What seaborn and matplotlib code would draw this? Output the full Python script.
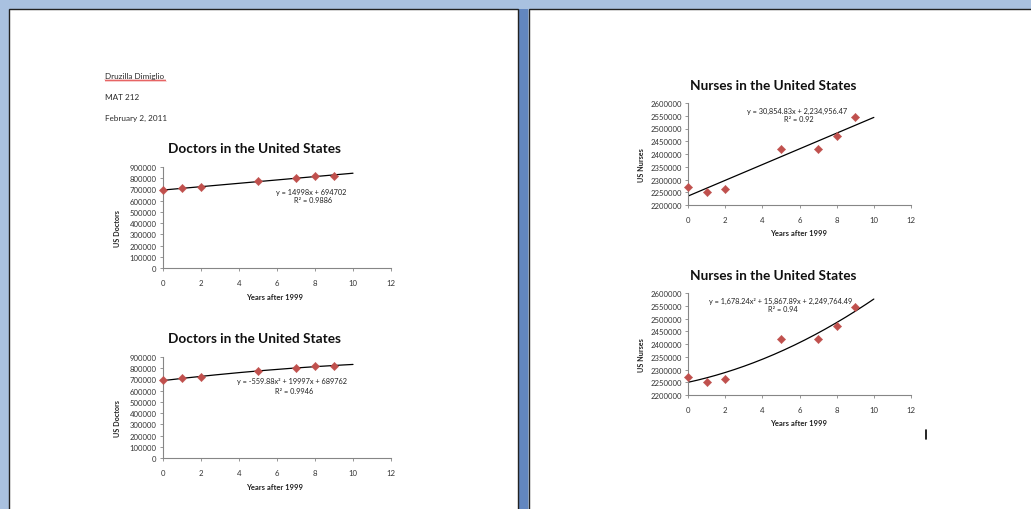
import numpy as np
import pandas as pd
import matplotlib
matplotlib.use("Agg")
import matplotlib.pyplot as plt
from matplotlib.patches import Rectangle
from matplotlib.lines import Line2D
import seaborn as sns

# ---- data -------------------------------------------------------------
years = [0, 1, 2, 5, 7, 8, 9]
doctors = [692000, 710000, 724000, 778000, 800000, 817000, 822000]
nurses = [2272000, 2251000, 2262000, 2421000, 2418000, 2469000, 2544000]

# trendline coefficients (highest power first) as printed on the charts
doc_lin = [14998, 694702]
doc_quad = [-559.88, 19997, 689762]
nur_lin = [30854.83, 2234956.47]
nur_quad = [1678.24, 15867.89, 2249764.49]

doc_lin_label = ["y = 14998x + 694702", "R\u00b2 = 0.9886"]
doc_quad_label = ["y = -559.88x\u00b2 + 19997x + 689762", "R\u00b2 = 0.9946"]
nur_lin_label = ["y = 30,854.83x + 2,234,956.47", "R\u00b2 = 0.92"]
nur_quad_label = ["y = 1,678.24x\u00b2 + 15,867.89x + 2,249,764.49", "R\u00b2 = 0.94"]

doc_yticks = list(range(0, 900001, 100000))
nur_yticks = list(range(2200000, 2600001, 50000))
xticks = [0, 2, 4, 6, 8, 10, 12]

header = ["Druzilla Dimiglio", "MAT 212", "February 2, 2011"]

# ---- figure ---------------------------------------------------------
sns.set_theme(style="white")
plt.rcParams["font.family"] = ["Lato", "DejaVu Sans"]

W, H = 1031, 510
fig = plt.figure(figsize=(W / 100, H / 100), dpi=100)
fig.patch.set_facecolor("#a9c1e0")


def fx(x):
    return x / W


def fy(y):
    return 1 - y / H


# gap between the two pages
fig.add_artist(Rectangle((fx(518), 0), fx(10), fy(10), transform=fig.transFigure,
                         facecolor="#6286bf", edgecolor="none", zorder=0))
# pages
for x0, x1 in [(8.5, 517.5), (528.5, 1040)]:
    fig.add_artist(Rectangle((fx(x0), -0.05), fx(x1 - x0), fy(10) + 0.05,
                             transform=fig.transFigure, facecolor="white",
                             edgecolor="#222222", linewidth=1.0, zorder=0.5))

# header block
for txt, y in zip(header, [77, 97, 118]):
    fig.text(fx(105), fy(y), txt, fontsize=5.9, color="#2a2a2a",
             ha="left", va="center", zorder=3)
# spell-check squiggle under the name
sx = np.arange(105, 167, 1.0)
sy = 81.5 + 0.8 * ((np.arange(len(sx)) % 2) * 2 - 1)
fig.add_artist(Line2D(fx(sx), fy(sy), transform=fig.transFigure,
                      color="#e03030", linewidth=0.5, zorder=3))

# text cursor on the right page
fig.add_artist(Line2D([fx(925.5), fx(925.5)], [fy(431), fy(440)],
                      transform=fig.transFigure, color="black", linewidth=1.2, zorder=3))

spine_c = "#868686"
tick_c = "#333333"
red = "#c0504d"


def chart(left, right, top, bottom, title, ylabel, values, coef, label,
          ylim, yticks, title_x, title_y, lab_x, lab_y, eq_x, eq_y, ylab_x):
    ax = fig.add_axes([fx(left), fy(bottom), fx(right - left), (bottom - top) / H])
    ax.set_zorder(2)
    ax.set_facecolor("none")
    xs = np.linspace(0, 10, 200)
    df_line = pd.DataFrame({"x": xs, "y": np.polyval(coef, xs)})
    sns.lineplot(data=df_line, x="x", y="y", ax=ax, color="black",
                 linewidth=0.9, zorder=2)
    df = pd.DataFrame({"x": years, "y": values})
    sns.scatterplot(data=df, x="x", y="y", ax=ax, marker="D", s=18,
                    color=red, edgecolor=red, linewidth=0.3, zorder=3,
                    clip_on=False)
    ax.set_xlim(0, 12)
    ax.set_ylim(*ylim)
    ax.set_xticks(xticks)
    ax.set_yticks(yticks)
    ax.set_xticklabels([str(t) for t in xticks])
    ax.set_yticklabels([str(t) for t in yticks])
    ax.set_xlabel("")
    ax.set_ylabel("")
    for s in ["top", "right"]:
        ax.spines[s].set_visible(False)
    for s in ["left", "bottom"]:
        ax.spines[s].set_color(spine_c)
        ax.spines[s].set_linewidth(0.8)
    ax.tick_params(axis="both", which="major", direction="out", length=2.5,
                   width=0.6, color=spine_c, labelsize=5.6, labelcolor=tick_c,
                   left=True, bottom=True, pad=2)
    ax.tick_params(axis="x", pad=5.5)
    ax.grid(False)
    fig.text(fx(title_x), fy(title_y), title, fontsize=9.8,
             fontweight="bold", color="#111111", ha="center", va="center")
    fig.text(fx(lab_x), fy(lab_y), "Years after 1999", fontsize=5.5,
             fontweight="bold", color="#222222", ha="center", va="center")
    fig.text(fx(ylab_x), fy((top + bottom) / 2 + 10), ylabel, fontsize=5.2,
             fontweight="bold", color="#222222", ha="center", va="center",
             rotation=90)
    fig.text(fx(eq_x), fy(eq_y), label[0], fontsize=5.3, color="#222222",
             ha="center", va="center", zorder=4)
    fig.text(fx(eq_x + 2), fy(eq_y + 9), label[1], fontsize=5.3, color="#222222",
             ha="center", va="center", zorder=4)
    return ax


chart(163, 391, 168, 269, "Doctors in the United States", "US Doctors", doctors,
      doc_lin, doc_lin_label, (0, 900000), doc_yticks, 254, 149, 275, 298, 311, 192, 117)
chart(163, 391, 358, 459, "Doctors in the United States", "US Doctors", doctors,
      doc_quad, doc_quad_label, (0, 900000), doc_yticks, 254, 339, 275, 488, 292, 382, 117)
chart(688, 911, 104, 206, "Nurses in the United States", "US Nurses", nurses,
      nur_lin, nur_lin_label, (2200000, 2600000), nur_yticks, 773, 86, 799, 234, 797, 111, 641)
chart(688, 911, 294, 396, "Nurses in the United States", "US Nurses", nurses,
      nur_quad, nur_quad_label, (2200000, 2600000), nur_yticks, 773, 276, 799, 424, 781, 301, 641)

fig.savefig("out.png", dpi=100, facecolor=fig.get_facecolor())
